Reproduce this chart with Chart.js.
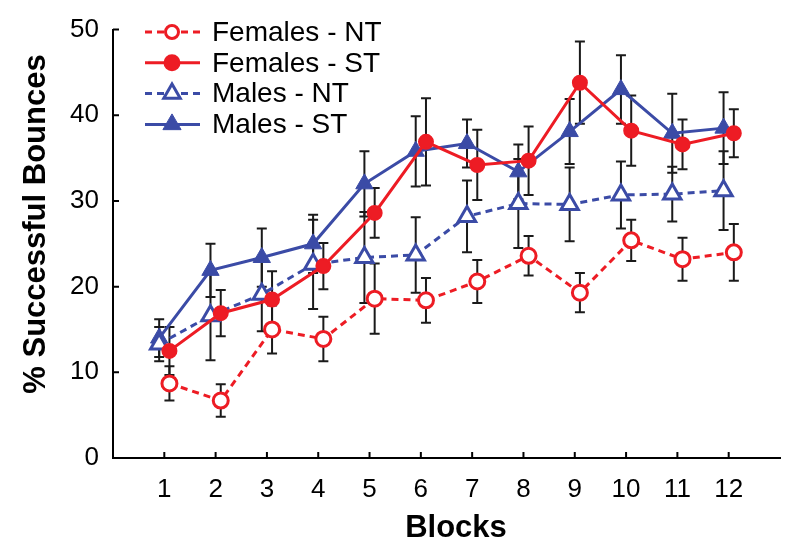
<!DOCTYPE html>
<html>
<head>
<meta charset="utf-8">
<script src="https://cdn.jsdelivr.net/npm/chart.js@4.4.0/dist/chart.umd.min.js"></script>
<style>
    body { margin: 0; background: #ffffff; }
    canvas { display: block; }
</style>
</head>
<body>
<canvas id="grafico" width="800" height="554"></canvas>
<script>
// blocos no eixo x
var blocos = [1, 2, 3, 4, 5, 6, 7, 8, 9, 10, 11, 12];
var ticksY = [0, 10, 20, 30, 40, 50];

// valores (% de quiques com sucesso) e erro (+/-)
var femininoNT = [8.7, 6.7, 15.0, 13.9, 18.6, 18.4, 20.6, 23.6, 19.3, 25.4, 23.2, 24.0];
var femininoNTerro = [2.0, 1.9, 2.8, 2.6, 4.1, 2.6, 2.5, 2.3, 2.3, 2.4, 2.5, 3.3];

var femininoST = [12.5, 16.9, 18.5, 22.4, 28.6, 36.9, 34.2, 34.7, 43.8, 38.2, 36.6, 37.9];
var femininoSTerro = [2.8, 2.7, 3.3, 2.7, 2.9, 5.1, 4.1, 4.0, 4.8, 4.1, 2.9, 2.8];

var masculinoNT = [13.3, 16.6, 19.1, 22.6, 23.4, 23.7, 28.2, 29.7, 29.6, 30.7, 30.8, 31.2];
var masculinoNTerro = [2.0, 5.2, 4.3, 5.2, 5.3, 4.4, 4.2, 5.2, 4.3, 3.9, 3.2, 4.6];

var masculinoST = [14.0, 21.9, 23.4, 25.0, 32.0, 35.8, 36.7, 33.4, 38.1, 43.0, 37.9, 38.5];
var masculinoSTerro = [2.2, 3.1, 3.4, 3.4, 3.8, 4.1, 2.8, 3.2, 3.8, 4.0, 4.6, 4.2];

var nomesSeries = ['Females - NT', 'Females - ST', 'Males - NT', 'Males - ST'];

var vermelho = '#ED1C24';
var azul = '#3B4BA6';
var fonte = '"Liberation Sans", Arial, Helvetica, sans-serif';

// femininos ficam um pouco a direita do bloco, masculinos um pouco a esquerda
function montaPontos(valores, desloc) {
    var pontos = [];
    for (var i = 0; i < blocos.length; i++) {
        pontos.push({ x: blocos[i] + desloc, y: valores[i] });
    }
    return pontos;
}

var datasets = [{
    label: nomesSeries[0],
    data: montaPontos(femininoNT, 0.1),
    erros: femininoNTerro,
    borderColor: vermelho,
    borderWidth: 3,
    borderDash: [7, 5],
    pointStyle: 'circle',
    pointRadius: 7.5,
    pointBorderWidth: 3,
    pointBackgroundColor: '#ffffff',
    pointBorderColor: vermelho,
    legendaRaio: 6.5
}, {
    label: nomesSeries[1],
    data: montaPontos(femininoST, 0.1),
    erros: femininoSTerro,
    borderColor: vermelho,
    borderWidth: 3,
    pointStyle: 'circle',
    pointRadius: 7,
    pointBorderWidth: 2,
    pointBackgroundColor: vermelho,
    pointBorderColor: vermelho,
    legendaRaio: 7.5
}, {
    label: nomesSeries[2],
    data: montaPontos(masculinoNT, -0.1),
    erros: masculinoNTerro,
    borderColor: azul,
    borderWidth: 3,
    borderDash: [7, 5],
    pointStyle: 'triangle',
    pointRadius: 10,
    pointBorderWidth: 3,
    pointBackgroundColor: '#ffffff',
    pointBorderColor: azul,
    legendaRaio: 9.5
}, {
    label: nomesSeries[3],
    data: montaPontos(masculinoST, -0.1),
    erros: masculinoSTerro,
    borderColor: azul,
    borderWidth: 3,
    pointStyle: 'triangle',
    pointRadius: 10,
    pointBorderWidth: 1,
    pointBackgroundColor: azul,
    pointBorderColor: azul,
    legendaRaio: 10.5
}];

// barras de erro, desenhadas antes das linhas
var pluginErro = {
    id: 'barrasErro',
    beforeDatasetsDraw: function (chart) {
        var ctx = chart.ctx;
        var escalaY = chart.scales.y;
        ctx.save();
        ctx.strokeStyle = '#1a1a1a';
        ctx.lineWidth = 2;
        chart.data.datasets.forEach(function (ds, i) {
            var meta = chart.getDatasetMeta(i);
            for (var j = 0; j < meta.data.length; j++) {
                var x = meta.data[j].x;
                var v = ds.data[j].y;
                var yAlto = escalaY.getPixelForValue(v + ds.erros[j]);
                var yBaixo = escalaY.getPixelForValue(v - ds.erros[j]);
                ctx.beginPath();
                ctx.moveTo(x, yAlto);
                ctx.lineTo(x, yBaixo);
                ctx.moveTo(x - 5, yAlto);
                ctx.lineTo(x + 5, yAlto);
                ctx.moveTo(x - 5, yBaixo);
                ctx.lineTo(x + 5, yBaixo);
                ctx.stroke();
            }
        });
        ctx.restore();
    }
};

// ticks para dentro, titulos dos eixos e legenda
var pluginEixos = {
    id: 'eixosLegenda',
    afterDraw: function (chart) {
        var ctx = chart.ctx;
        var area = chart.chartArea;
        var ex = chart.scales.x;
        var ey = chart.scales.y;

        ctx.save();
        ctx.strokeStyle = '#000000';
        ctx.lineWidth = 2;
        ctx.beginPath();
        blocos.forEach(function (b) {
            var px = ex.getPixelForValue(b);
            ctx.moveTo(px, area.bottom);
            ctx.lineTo(px, area.bottom - 6);
        });
        ticksY.forEach(function (t) {
            var py = ey.getPixelForValue(t);
            ctx.moveTo(area.left, py);
            ctx.lineTo(area.left + 6, py);
        });
        ctx.stroke();

        // titulos
        ctx.fillStyle = '#000000';
        ctx.font = 'bold 31px ' + fonte;
        ctx.textAlign = 'center';
        ctx.textBaseline = 'middle';
        ctx.fillText('Blocks', 456, 528);
        ctx.save();
        ctx.translate(36, 224);
        ctx.rotate(-Math.PI / 2);
        ctx.fillText('% Successful Bounces', 0, 0);
        ctx.restore();

        // legenda
        ctx.font = '28px ' + fonte;
        ctx.textAlign = 'left';
        chart.data.datasets.forEach(function (ds, i) {
            var y = 32 + i * 30.8;
            ctx.save();
            ctx.strokeStyle = ds.borderColor;
            ctx.lineWidth = 3;
            ctx.setLineDash(ds.borderDash || []);
            ctx.beginPath();
            ctx.moveTo(145, y);
            ctx.lineTo(200, y);
            ctx.stroke();
            ctx.setLineDash([]);
            ctx.fillStyle = ds.pointBackgroundColor;
            ctx.strokeStyle = ds.pointBorderColor;
            ctx.lineWidth = ds.pointBorderWidth;
            Chart.helpers.drawPoint(ctx, {
                pointStyle: ds.pointStyle,
                radius: ds.legendaRaio,
                borderWidth: ds.pointBorderWidth,
                rotation: 0
            }, 172, y);
            ctx.restore();
            ctx.fillStyle = '#000000';
            ctx.fillText(ds.label, 212, y + 1);
        });
        ctx.restore();
    }
};

var config = {
    type: 'line',
    data: { datasets: datasets },
    options: {
        responsive: false,
        animation: false,
        layout: { padding: { top: 18, right: 20, left: 0, bottom: 0 } },
        plugins: {
            legend: { display: false },
            tooltip: { enabled: false }
        },
        elements: { line: { tension: 0 } },
        scales: {
            x: {
                type: 'linear',
                min: 0,
                max: 13,
                afterBuildTicks: function (escala) {
                    escala.ticks = blocos.map(function (b) { return { value: b }; });
                },
                afterFit: function (escala) { escala.height = 96; },
                grid: { display: false, drawTicks: false },
                border: { display: true, color: '#000000', width: 2 },
                ticks: {
                    color: '#000000',
                    font: { family: fonte, size: 26 },
                    padding: 16,
                    maxRotation: 0,
                    autoSkip: false
                }
            },
            y: {
                min: 0,
                max: 50,
                afterBuildTicks: function (escala) {
                    escala.ticks = ticksY.map(function (t) { return { value: t }; });
                },
                afterFit: function (escala) { escala.width = 113; },
                grid: { display: false, drawTicks: false },
                border: { display: true, color: '#000000', width: 2 },
                ticks: {
                    color: '#000000',
                    font: { family: fonte, size: 26 },
                    padding: 14
                }
            }
        }
    },
    plugins: [pluginErro, pluginEixos]
};

var meuGrafico = new Chart(document.getElementById('grafico'), config);
</script>
</body>
</html>
